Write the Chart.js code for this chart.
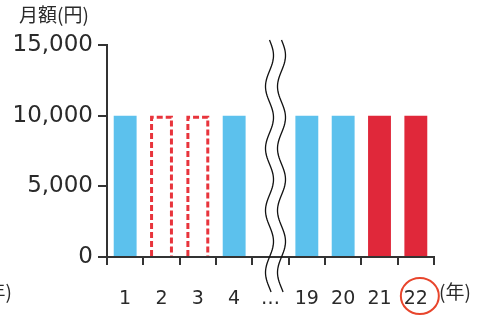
<!DOCTYPE html>
<html>
<head>
<meta charset="utf-8">
<script src="https://cdn.jsdelivr.net/npm/chart.js@4"></script>
<style>
  html, body { margin: 0; padding: 0; background: #fff; }
  canvas { display: block; }
</style>
</head>
<body>
<canvas id="chart" width="489" height="315"></canvas>
<script>
// 加入年数（途中は省略）
const years = ['1', '2', '3', '4', '…', '19', '20', '21', '22'];
// 月額（円）
const amounts = [10000, 10000, 10000, 10000, null, 10000, 10000, 10000, 10000];
// 状態：納付・未納・追納
const status = ['納付', '未納', '未納', '納付', null, '納付', '納付', '追納', '追納'];
const yTicks = [0, 5000, 10000, 15000];

const BLUE = '#5cc1ed';
const RED = '#e0283a';
const INK = '#2a2a2a';

const fillColors = status.map(s => s === '納付' ? BLUE : s === '追納' ? RED : 'rgba(0,0,0,0)');

// 未納の棒を破線で描く・波線・丸・軸ラベル
const decorations = {
  id: 'decorations',
  afterDatasetsDraw(chart) {
    const ctx = chart.ctx;
    const meta = chart.getDatasetMeta(0);
    ctx.save();
    meta.data.forEach((bar, i) => {
      if (status[i] !== '未納') return;
      const p = bar.getProps(['x', 'y', 'width', 'base'], true);
      const l = p.x - p.width / 2 + 1.5, r = p.x + p.width / 2 - 1.5;
      ctx.strokeStyle = '#e8343c';
      ctx.lineWidth = 3;
      ctx.setLineDash([6, 3]);
      ctx.beginPath();
      ctx.moveTo(l, p.base);
      ctx.lineTo(l, p.y + 1.5);
      ctx.lineTo(r, p.y + 1.5);
      ctx.lineTo(r, p.base);
      ctx.stroke();
    });
    ctx.restore();
  },
  afterDraw(chart) {
    const ctx = chart.ctx;
    const x = chart.scales.x;
    ctx.save();

    // 省略の波線
    const cx = x.getPixelForValue(4) + 5;
    ctx.strokeStyle = '#111';
    ctx.lineWidth = 1.3;
    [-6, 6].forEach(dx => {
      ctx.beginPath();
      for (let py = 40; py <= 292; py += 2) {
        const px = cx + dx + 4 * Math.sin((py - 40) / 62 * 2 * Math.PI);
        if (py === 40) ctx.moveTo(px, py); else ctx.lineTo(px, py);
      }
      ctx.stroke();
    });

    // 軸タイトル
    ctx.fillStyle = INK;
    ctx.font = '19px "Noto Sans CJK JP"';
    ctx.textBaseline = 'middle';
    ctx.textAlign = 'left';
    ctx.fillText('月額(円)', 19, 15);
    ctx.fillText('(年)', x.right + 5, 292);
    ctx.textAlign = 'right';
    ctx.fillText('(年)', 12, 292);

    // 22年目の丸
    const last = years.length - 1;
    ctx.strokeStyle = '#e8452c';
    ctx.lineWidth = 2;
    ctx.beginPath();
    ctx.ellipse(x.getPixelForValue(last) + 4, 296, 19, 18, 0, 0, Math.PI * 2);
    ctx.stroke();
    ctx.restore();
  }
};

new Chart(document.getElementById('chart'), {
  type: 'bar',
  data: {
    labels: years,
    datasets: [{
      data: amounts,
      backgroundColor: fillColors,
      borderWidth: 0,
      categoryPercentage: 1,
      barPercentage: 0.63
    }]
  },
  options: {
    responsive: false,
    animation: false,
    layout: { padding: { top: 45, right: 55, left: 0, bottom: 0 } },
    plugins: { legend: { display: false }, tooltip: { enabled: false } },
    scales: {
      x: {
        afterFit: s => { s.height = 58; },
        grid: { offset: true, drawOnChartArea: false, tickLength: 8, color: '#333', lineWidth: 2 },
        border: { color: '#333', width: 2 },
        ticks: { color: INK, padding: 23, font: { family: 'DejaVu Sans', size: 19 } }
      },
      y: {
        min: 0,
        max: 15000,
        afterFit: s => { s.width = 107; },
        afterBuildTicks: s => { s.ticks = yTicks.map(v => ({ value: v })); },
        grid: { drawOnChartArea: false, tickLength: 9, color: '#333', lineWidth: 2 },
        border: { color: '#333', width: 2 },
        ticks: {
          color: INK,
          padding: 5,
          font: { family: 'DejaVu Sans', size: 23 },
          callback: v => v.toLocaleString('en-US')
        }
      }
    }
  },
  plugins: [decorations]
});
</script>
</body>
</html>
